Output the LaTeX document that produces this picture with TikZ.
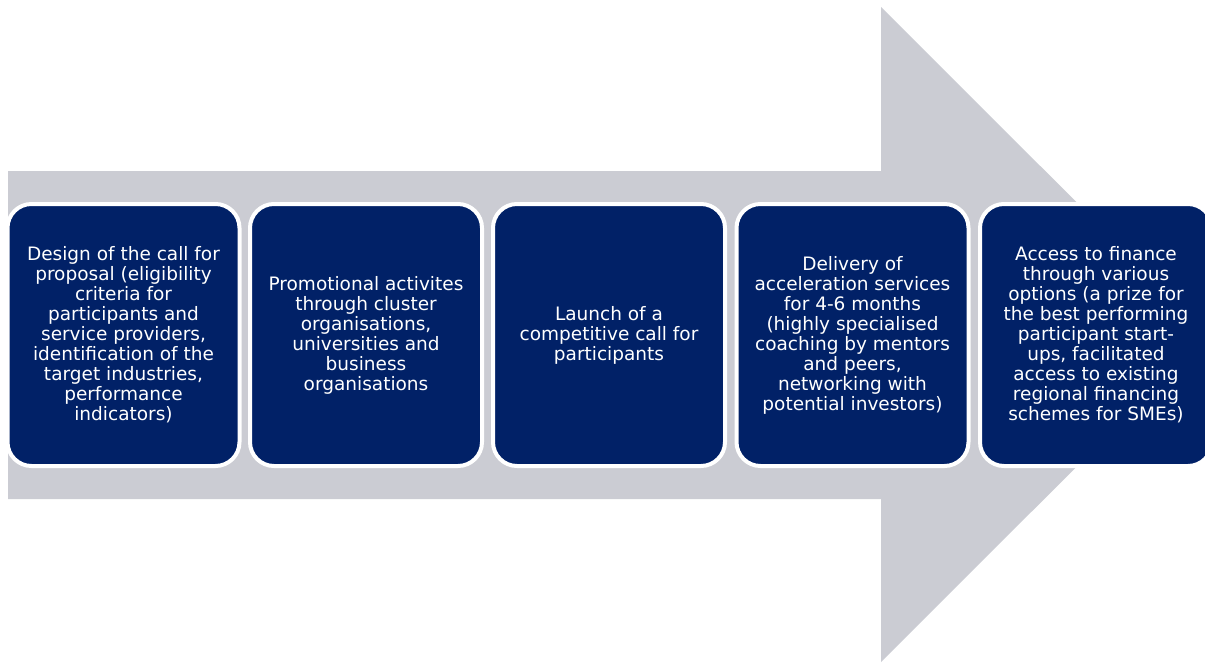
\documentclass[tikz,border=0pt]{standalone}
\usepackage{fontspec}
\setmainfont{DejaVu Sans}
\definecolor{arrowgrey}{RGB}{203,204,211}
\definecolor{navy}{RGB}{1,33,103}
\begin{document}
\begin{tikzpicture}[x=1pt,y=-1pt,
  stepbox/.style={rectangle, rounded corners=24pt, draw=white, line width=4pt,
    fill=navy, minimum width=232pt, minimum height=262pt, inner sep=0pt,
    text=white, align=center, font=\fontsize{18.5}{20}\selectfont}]
  \clip (0,0) rectangle (1205,662);
  % large process arrow in the background
  \fill[arrowgrey] (8,171) -- (881,171) -- (881,7) -- (1209,334.5)
    -- (881,662) -- (881,499) -- (8,499) -- cycle;
  % process stages
  \node[stepbox] (s1) at (123.5,335) {Design of the call for\\proposal (eligibility\\criteria for\\participants and\\service providers,\\identification of the\\target industries,\\performance\\indicators)};
  \node[stepbox] (s2) at (366,335) {Promotional activites\\through cluster\\organisations,\\universities and\\business\\organisations};
  \node[stepbox] (s3) at (609,335) {Launch of a\\competitive call for\\participants};
  \node[stepbox] (s4) at (852.5,335) {Delivery of\\acceleration services\\for 4-6 months\\(highly specialised\\coaching by mentors\\and peers,\\networking with\\potential investors)};
  \node[stepbox] (s5) at (1096,335) {Access to finance\\through various\\options (a prize for\\the best performing\\participant start-\\ups, facilitated\\access to existing\\regional financing\\schemes for SMEs)};
\end{tikzpicture}
\end{document}
